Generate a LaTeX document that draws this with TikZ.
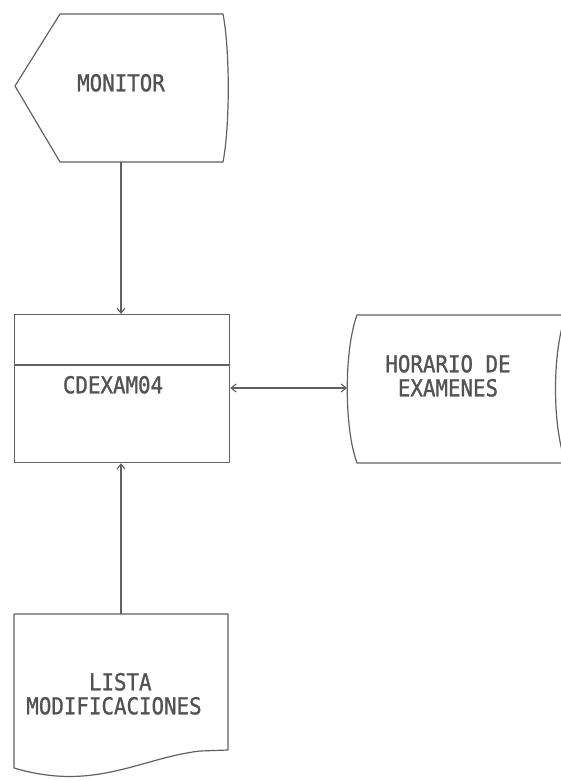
\documentclass[tikz,border=0pt]{standalone}
\usepackage{fontspec}
\setmonofont[FakeBold=1.2]{DejaVu Sans Mono}
\usetikzlibrary{arrows.meta}
\newcommand{\tallt}[1]{\scalebox{1}[1.12]{\begin{tabular}{@{}c@{}}#1\end{tabular}}}
\begin{document}
\begin{tikzpicture}[x=1pt,y=-1pt,
  shapeline/.style={draw=black!62, line width=1.2pt, line join=round},
  conn/.style={draw=black!62, line width=1.1pt},
  tipend/.style={-{Straight Barb[length=5pt,width=8pt]}},
  tipboth/.style={{Straight Barb[length=5pt,width=8pt]}-{Straight Barb[length=5pt,width=8pt]}},
  lbl/.style={text=black!68, font=\ttfamily\fontsize{20.8}{20}\selectfont, inner sep=0pt}]
\useasboundingbox (0,0) rectangle (561,781);

% MONITOR (display shape)
\draw[shapeline] (60,14) -- (223,14) .. controls (230,50) and (230,126) .. (223,162)
  -- (60,162) -- (15,86) -- cycle;
\coordinate (monB) at (121,162);
\node[lbl] (mon) at (121,86) {\tallt{MONITOR}};

% CDEXAM04 (process box)
\node[shapeline, rectangle, inner sep=0pt, minimum width=215pt, minimum height=148pt,
  anchor=north west] (proc) at (14,314) {};
\draw[shapeline] (14,365) -- (229,365);
\node[lbl] (proctxt) at (113,388) {\tallt{CDEXAM04}};

% HORARIO DE EXAMENES (online storage)
\draw[shapeline] (357,315) -- (566,315) .. controls (552,350) and (552,428) .. (566,463)
  -- (357,463) .. controls (344,428) and (344,350) .. cycle;
\coordinate (horL) at (347,388);
\node[lbl] (hor) at (448,379) {\tallt{HORARIO DE\\EXAMENES}};

% LISTA MODIFICACIONES (document)
\draw[shapeline] (14,614) -- (228,614) -- (228,750) -- (200,751)
  .. controls (140,758) and (95,792) .. (14,768) -- cycle;
\coordinate (docT) at (121,614);
\node[lbl] (doc) at (114,697) {\tallt{~LISTA\\MODIFICACIONES}};

% connectors
\draw[conn, tipend] (monB) -- (proc.north -| monB);
\draw[conn, tipend] (docT) -- (proc.south -| docT);
\draw[conn, tipboth] (proc.east |- horL) -- (horL);
\end{tikzpicture}
\end{document}
